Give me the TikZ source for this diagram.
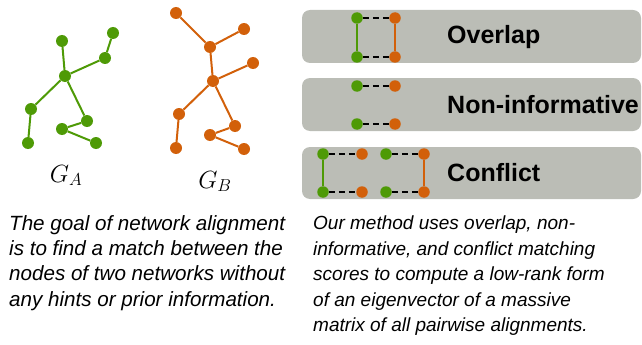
\documentclass[tikz,border=0pt]{standalone}
\usepackage{fontspec}
\setmainfont{Liberation Sans}
\usetikzlibrary{positioning}
\definecolor{gnode}{HTML}{4E9A06}
\definecolor{onode}{HTML}{D2600A}
\definecolor{panel}{HTML}{BBBDB6}

\begin{document}
\begin{tikzpicture}[
    x=1pt, y=-1pt,
    gdot/.style={circle, fill=gnode, inner sep=0pt, minimum size=12pt},
    odot/.style={circle, fill=onode, inner sep=0pt, minimum size=12pt},
    sdot/.style={minimum size=11.5pt},
    gedge/.style={gnode, line width=2pt},
    oedge/.style={onode, line width=2pt},
    match/.style={black, line width=2.2pt, dash pattern=on 6pt off 4pt},
    panelbox/.style={fill=panel, rounded corners=8pt},
    kind/.style={font=\fontsize{25}{30}\selectfont\bfseries, anchor=base west, inner sep=0pt},
    para/.style={align=left, anchor=north west, inner sep=0pt},
  ]
  \useasboundingbox (0,0) rectangle (642,345);

  % network A
  \node[gdot] (a1) at (62,41)  {};
  \node[gdot] (a2) at (113,33) {};
  \node[gdot] (a3) at (105,58) {};
  \node[gdot] (a4) at (65,76)  {};
  \node[gdot] (a5) at (31,109) {};
  \node[gdot] (a6) at (28,143) {};
  \node[gdot] (a7) at (87,121) {};
  \node[gdot] (a8) at (62,129) {};
  \node[gdot] (a9) at (96,143) {};
  \draw[gedge] (a1) -- (a4);
  \draw[gedge] (a2) -- (a3);
  \draw[gedge] (a3) -- (a4);
  \draw[gedge] (a4) -- (a5);
  \draw[gedge] (a5) -- (a6);
  \draw[gedge] (a4) -- (a7);
  \draw[gedge] (a7) -- (a8);
  \draw[gedge] (a8) -- (a9);
  \node[anchor=base, inner sep=0pt, font=\fontsize{23}{28}\selectfont] (ga) at (66,182) {$G_A$};

  % network B
  \node[odot] (b1)  at (176,13)  {};
  \node[odot] (b2)  at (244,29)  {};
  \node[odot] (b3)  at (210,47)  {};
  \node[odot] (b4)  at (253,63)  {};
  \node[odot] (b5)  at (213,81)  {};
  \node[odot] (b6)  at (179,114) {};
  \node[odot] (b7)  at (176,148) {};
  \node[odot] (b8)  at (235,126) {};
  \node[odot] (b9)  at (210,135) {};
  \node[odot] (b10) at (244,149) {};
  \draw[oedge] (b1) -- (b3);
  \draw[oedge] (b2) -- (b3);
  \draw[oedge] (b3) -- (b5);
  \draw[oedge] (b4) -- (b5);
  \draw[oedge] (b5) -- (b6);
  \draw[oedge] (b6) -- (b7);
  \draw[oedge] (b5) -- (b8);
  \draw[oedge] (b8) -- (b9);
  \draw[oedge] (b9) -- (b10);
  \node[anchor=base, inner sep=0pt, font=\fontsize{23}{28}\selectfont] (gb) at (215,188) {$G_B$};

  % panels
  \fill[panelbox] (302,10)  rectangle (641,63);
  \fill[panelbox] (302,78)  rectangle (641,131);
  \fill[panelbox] (302,147) rectangle (641,199);

  % overlap
  \node[gdot, sdot] (ovg1) at (357,18) {};
  \node[gdot, sdot] (ovg2) at (357,57) {};
  \node[odot, sdot] (ovo1) at (395,18) {};
  \node[odot, sdot] (ovo2) at (395,57) {};
  \draw[gedge] (ovg1) -- (ovg2);
  \draw[oedge] (ovo1) -- (ovo2);
  \draw[match] (ovg1) -- (ovo1);
  \draw[match] (ovg2) -- (ovo2);
  \node[kind] (overlap) at (447,44) {Overlap};

  % non-informative
  \node[gdot, sdot] (nig1) at (357,86)  {};
  \node[gdot, sdot] (nig2) at (357,124) {};
  \node[odot, sdot] (nio1) at (395,86)  {};
  \node[odot, sdot] (nio2) at (395,124) {};
  \draw[match] (nig1) -- (nio1);
  \draw[match] (nig2) -- (nio2);
  \node[kind] (noninf) at (447,113) {Non-informative};

  % conflict
  \node[gdot, sdot] (cfg1) at (323,154) {};
  \node[gdot, sdot] (cfg2) at (323,192) {};
  \node[odot, sdot] (cfo1) at (362,154) {};
  \node[odot, sdot] (cfo2) at (362,192) {};
  \node[gdot, sdot] (cfg3) at (386,154) {};
  \node[gdot, sdot] (cfg4) at (386,192) {};
  \node[odot, sdot] (cfo3) at (424,154) {};
  \node[odot, sdot] (cfo4) at (424,192) {};
  \draw[gedge] (cfg1) -- (cfg2);
  \draw[oedge] (cfo3) -- (cfo4);
  \draw[match] (cfg1) -- (cfo1);
  \draw[match] (cfg2) -- (cfo2);
  \draw[match] (cfg3) -- (cfo3);
  \draw[match] (cfg4) -- (cfo4);
  \node[kind] (conflict) at (447,181) {Conflict};

  % captions
  \node[para, font=\fontsize{20.6}{25.3}\selectfont\itshape] (goal) at (9,215)
    {The goal of network alignment\\
    is to find a match between the\\
    nodes of two networks without\\
    any hints or prior information.};
  \node[para, font=\fontsize{19}{25.5}\selectfont\itshape] (method) at (313,216)
    {Our method uses overlap, non-\\
    informative, and conflict matching\\
    scores to compute a low-rank form\\
    of an eigenvector of a massive\\
    matrix of all pairwise alignments.};
\end{tikzpicture}
\end{document}
